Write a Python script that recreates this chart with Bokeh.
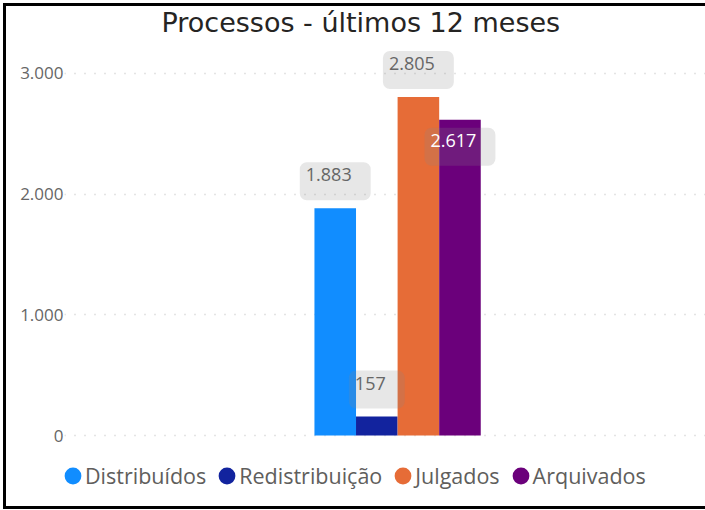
import numpy as np
from bokeh.plotting import figure
from bokeh.models import (ColumnDataSource, Range1d, FixedTicker, Legend, LegendItem, Label)
from bokeh.core.properties import value
from bokeh.embed import file_html
from bokeh.resources import INLINE

# ---- data ----
title = "Processos - últimos 12 meses"
series = ["Distribuídos", "Redistribuição", "Julgados", "Arquivados"]
values = [1883, 157, 2805, 2617]
colors = ["#118DFF", "#12239E", "#E66C37", "#6B007B"]
label_inside = [False, False, False, True]
y_ticks = [0, 1000, 2000, 3000]
y_tick_labels = ["0", "1.000", "2.000", "3.000"]

idx = np.arange(len(series))
labels = [f"{v:,}".replace(",", ".") for v in values]
source = ColumnDataSource(dict(
    x=idx, top=values, series=series, color=colors, label=labels,
    yoff=[27 if ins else -27 for ins in label_inside],
    tcolor=["#FFFFFF" if ins else "#666666" for ins in label_inside],
    hidden=[np.nan] * len(series),
))

p = figure(width=699, height=500, output_backend="svg", toolbar_location=None,
           x_range=Range1d(-6.512, 8.906), y_range=Range1d(-588, 3555),
           min_border_left=58, min_border_right=0, min_border_top=0, min_border_bottom=0,
           margin=(6, 0, 0, 6),
           styles={"outline": "3px solid black"})

# chart title (drawn inside the canvas)
p.add_layout(Label(x=97, y=484, x_units="screen", y_units="screen", text=title,
                   text_align="left", text_baseline="middle",
                   text_font="DejaVu Sans", text_font_size="27px", text_color="#252423"))

p.vbar(x="x", top="top", width=1.0, bottom=0, fill_color="color", line_color=None, source=source)

p.text(x="x", y="top", text="label", source=source, y_offset="yoff",
       text_align="center", text_baseline="middle",
       text_font=value("Open Sans"), text_font_size="18px", text_color="tcolor",
       background_fill_color="#888888", background_fill_alpha=0.2,
       padding=[6, 19, 6, 19], border_radius=7)

# legend markers (not drawn in the plot area; only used by the legend)
dots = p.ellipse(x="x", y="hidden", source=source, width=17, height=17,
                 width_units="screen", height_units="screen",
                 fill_color="color", line_color=None)

legend = Legend(items=[LegendItem(label=s, renderers=[dots], index=i) for i, s in enumerate(series)],
                orientation="horizontal", location=(-2, 16),
                glyph_width=21, glyph_height=21, label_height=21, label_standoff=2, spacing=10,
                padding=0, margin=0, border_line_color=None, background_fill_alpha=0,
                label_text_font="Open Sans", label_text_font_size="21.5px",
                label_text_color="#605E5C")
p.add_layout(legend, "center")

p.xaxis.visible = False

p.yaxis.ticker = FixedTicker(ticks=y_ticks)
p.yaxis.major_label_overrides = dict(zip(y_ticks, y_tick_labels))
p.yaxis.axis_line_color = None
p.yaxis.major_tick_line_color = None
p.yaxis.major_tick_out = 0
p.yaxis.major_tick_in = 0
p.yaxis.minor_tick_line_color = None
p.yaxis.major_label_standoff = 1
p.yaxis.major_label_text_font = "Open Sans"
p.yaxis.major_label_text_font_size = "17px"
p.yaxis.major_label_text_color = "#666666"

p.xgrid.grid_line_color = None
p.ygrid.grid_line_color = "#C8C8C8"
p.ygrid.grid_line_dash = "1 9"
p.ygrid.grid_line_width = 1.5
p.outline_line_color = None

open("out.html", "w").write(file_html(p, INLINE))
